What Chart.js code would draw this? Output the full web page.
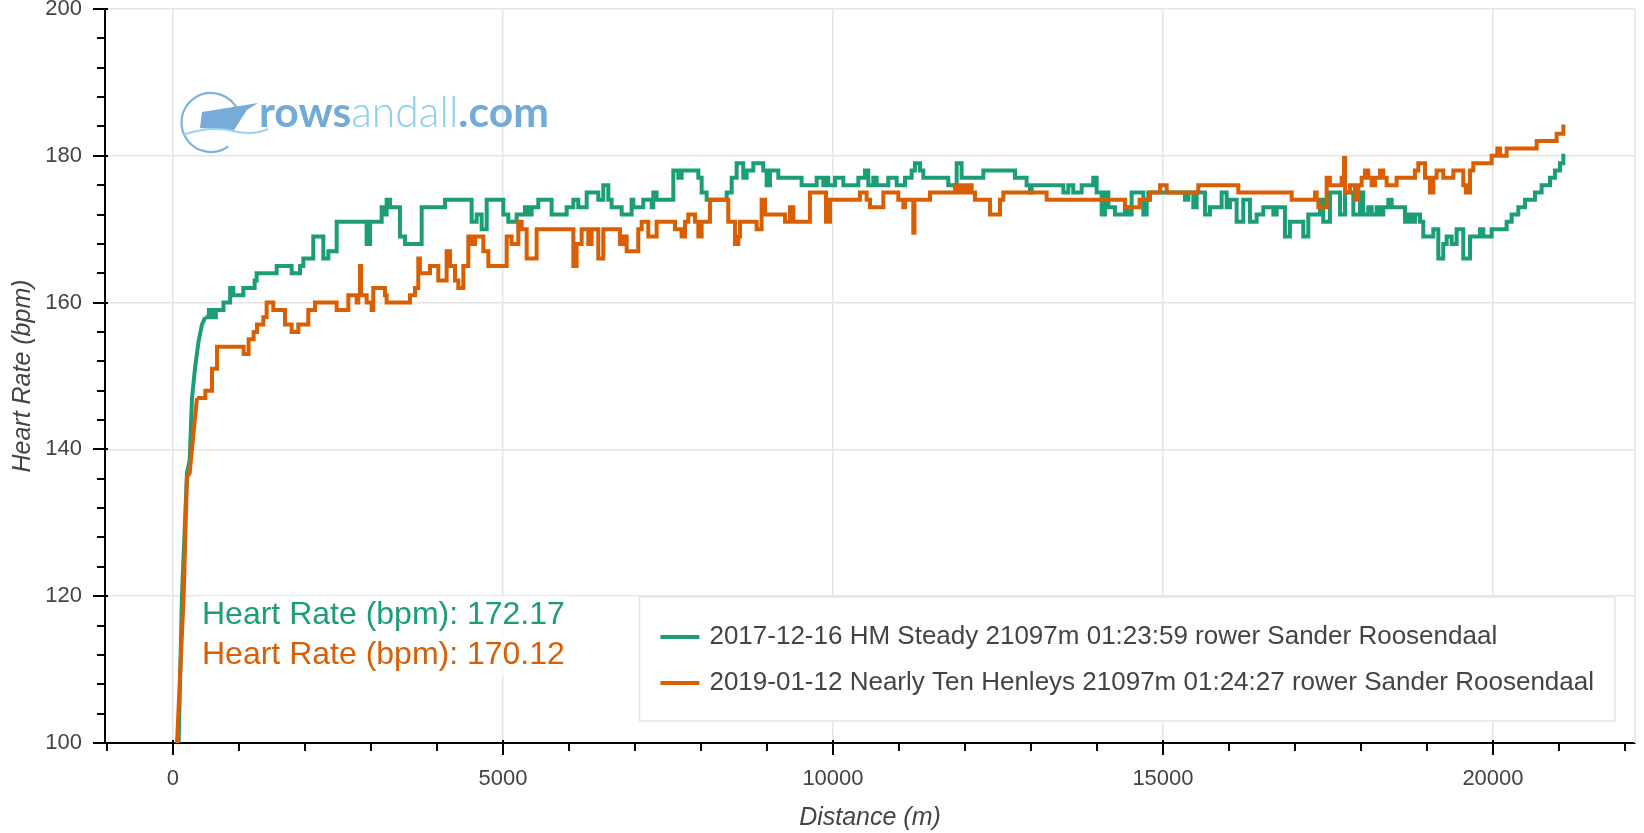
<!DOCTYPE html>
<html>
<head>
<meta charset="utf-8">
<script src="https://cdn.jsdelivr.net/npm/chart.js@4.4.1/dist/chart.umd.min.js"></script>
<style>
html, body { margin: 0; padding: 0; background: #ffffff; }
#wrap { width: 1644px; height: 833px; }
</style>
</head>
<body>
<div id="wrap"><canvas id="c" width="1644" height="833"></canvas></div>
<script>
// ---------------- DATA ----------------
const legendLabels = [
  '2017-12-16 HM Steady 21097m 01:23:59 rower Sander Roosendaal',
  '2019-01-12 Nearly Ten Henleys 21097m 01:24:27 rower Sander Roosendaal'
];
const averageLabels = ['Heart Rate (bpm): 172.17', 'Heart Rate (bpm): 170.12'];

const xMajorTicks = [0, 5000, 10000, 15000, 20000];
const yMajorTicks = [100, 120, 140, 160, 180, 200];
const xMinorStep = 1000;
const yMinorStep = 4;

// Series 1 (green) - warm-up ramp (distance m, heart rate bpm)
const greenRiseDist = [86, 136, 212, 253, 288, 338, 389, 439, 490];
const greenRiseHR   = [100, 120, 136.8, 138.5, 147, 151.4, 154.8, 157, 158];
// Series 1 (green) - stepped heart-rate changes (distance where value changes, new value)
const greenDist = [490, 545, 600, 650, 765, 866, 914, 1066, 1237, 1268, 1571, 1798, 1924, 1975, 2126, 2278, 2354, 2480, 2934, 2985,
  3162, 3212, 3237, 3288, 3439, 3515, 3768, 4121, 4525, 4601, 4677, 4753, 5005, 5081, 5207, 5333, 5384, 5434, 5535, 5737,
  5965, 6066, 6141, 6268, 6444, 6520, 6596, 6646, 6798, 6949, 6975, 7126, 7253, 7278, 7328, 7581, 7657, 7707, 7960, 8010,
  8086, 8389, 8465, 8540, 8641, 8692, 8793, 8944, 8995, 9045, 9172, 9525, 9753, 9854, 9904, 9929, 10030, 10157, 10384, 10485,
  10535, 10611, 10662, 10838, 10965, 11091, 11192, 11242, 11318, 11369, 11747, 11874, 11949, 12278, 12758, 12934, 12985, 13010, 13490, 13566,
  13641, 13768, 13944, 13995, 14071, 14121, 14172, 14273, 14424, 14475, 14525, 14702, 14753, 14778, 15333, 15384, 15460, 15510, 15636, 15712,
  15889, 15965, 16015, 16116, 16217, 16318, 16419, 16520, 16672, 16722, 16848, 16924, 17126, 17202, 17379, 17429, 17530, 17682, 17758, 17884,
  17985, 18035, 18111, 18162, 18237, 18288, 18338, 18414, 18465, 18667, 18717, 18768, 18818, 18894, 18944, 19096, 19172, 19247, 19298, 19374,
  19449, 19550, 19652, 19803, 19854, 19980, 20207, 20283, 20384, 20485, 20636, 20737, 20864, 20939, 21015, 21066, 21097];
const greenHR = [158, 159, 158, 159, 160, 162, 161, 162, 163, 164, 165, 164, 165, 166, 169, 166, 167, 171, 168, 171,
  173, 172, 174, 173, 169, 168, 173, 174, 171, 172, 170, 174, 172, 171, 172, 173, 172, 173, 174, 172,
  173, 174, 173, 175, 174, 176, 174, 173, 172, 174, 173, 174, 173, 175, 174, 178, 177, 178, 177, 175,
  174, 175, 177, 179, 177, 178, 179, 178, 176, 178, 177, 176, 177, 176, 177, 176, 177, 176, 177, 178,
  176, 177, 176, 177, 176, 177, 178, 179, 178, 177, 176, 179, 177, 178, 177, 176, 175, 176, 175, 176,
  175, 176, 177, 175, 172, 175, 173, 172, 173, 172, 175, 172, 174, 175, 174, 175, 173, 175, 172, 173,
  175, 173, 174, 171, 174, 171, 172, 173, 172, 173, 169, 171, 169, 172, 174, 171, 175, 172, 175, 172,
  175, 172, 173, 172, 173, 172, 173, 174, 173, 171, 172, 171, 172, 171, 169, 170, 166, 168, 169, 168,
  170, 166, 169, 170, 169, 170, 171, 172, 173, 174, 175, 176, 177, 178, 179, 180, 180];

// Series 2 (orange) - warm-up ramp
const orangeRiseDist = [61, 162, 212, 253, 313, 364];
const orangeRiseHR   = [100, 120, 136.2, 136.8, 142.4, 147];
// Series 2 (orange) - stepped heart-rate changes
const orangeDist = [364, 490, 591, 667, 1071, 1146, 1222, 1273, 1369, 1419, 1520, 1697, 1798, 1899, 2050, 2152, 2480, 2657, 2783, 2808,
  2833, 2850, 2934, 3010, 3035, 3212, 3237, 3591, 3667, 3717, 3742, 3894, 4020, 4146, 4197, 4273, 4323, 4399, 4475, 4525,
  4576, 4702, 4778, 5056, 5131, 5232, 5283, 5359, 5510, 6066, 6116, 6192, 6293, 6343, 6444, 6520, 6773, 6823, 6874, 7050,
  7101, 7202, 7328, 7606, 7707, 7758, 7808, 7909, 7960, 8010, 8136, 8414, 8515, 8566, 8591, 8843, 8919, 8970, 9273, 9348,
  9399, 9651, 9894, 9955, 10409, 10510, 10561, 10763, 10990, 11066, 11091, 11217, 11235, 11470, 11848, 11899, 11949, 12000, 12050, 12101,
  12151, 12379, 12531, 12581, 13237, 14424, 14646, 14803, 14955, 15056, 15535, 16141, 16950, 17303, 17328, 17354, 17480, 17530, 17707, 17742,
  17760, 17833, 17909, 17960, 18010, 18061, 18111, 18162, 18212, 18288, 18338, 18389, 18540, 18818, 18869, 18970, 19045, 19096, 19146, 19247,
  19399, 19550, 19591, 19652, 19702, 19980, 20066, 20106, 20207, 20662, 20965, 21066, 21097];
const orangeHR = [147, 148, 151, 154, 153, 155, 156, 157, 158, 160, 159, 157, 156, 157, 159, 160, 159, 161, 160, 161,
  165, 161, 160, 159, 162, 161, 160, 161, 162, 166, 164, 165, 163, 167, 165, 163, 162, 165, 169, 168,
  169, 167, 165, 169, 168, 171, 170, 166, 170, 165, 168, 170, 168, 170, 166, 170, 168, 169, 167, 170,
  171, 169, 171, 170, 169, 171, 172, 171, 169, 171, 174, 171, 168, 169, 171, 170, 174, 172, 171, 173,
  171, 175, 171, 174, 175, 174, 173, 175, 174, 173, 174, 169.5, 174, 175, 176, 175, 176, 175, 176, 175,
  174, 172, 174, 175, 174, 173, 174, 175, 176, 175, 176, 175, 174, 175, 174, 173, 177, 176, 177, 179.7,
  175, 176, 174, 176, 177, 178, 177, 176, 177, 178, 177, 176, 177, 178, 179, 177, 175, 177, 178, 177,
  178, 176, 175, 178, 179, 180, 181, 180, 181, 182, 183, 184, 184];

// ---------------- STYLE ----------------
const GREEN = '#1b9e77';
const ORANGE = '#d95f02';
const FONT = '"Liberation Sans", Arial, Helvetica, sans-serif';
const TEXT = '#444444';

const pts = (xs, ys) => xs.map((x, i) => ({ x: x, y: ys[i] }));

const lineBase = { pointRadius: 0, borderWidth: 4, fill: false, tension: 0, borderJoinStyle: 'miter' };

const decor = {
  id: 'decor',
  beforeDraw(chart) {
    const ctx = chart.ctx;
    ctx.save();
    ctx.fillStyle = '#ffffff';
    ctx.fillRect(0, 0, chart.width, chart.height);
    ctx.restore();
  },
  beforeDatasetsDraw(chart) {
    const ctx = chart.ctx;
    const a = chart.chartArea;
    ctx.save();
    // plot outline (right edge)
    ctx.strokeStyle = '#e5e5e5';
    ctx.lineWidth = 1.5;
    ctx.beginPath();
    ctx.moveTo(a.right, a.top);
    ctx.lineTo(a.right, a.bottom);
    ctx.stroke();

    // ---- logo ----
    ctx.strokeStyle = '#7fb3dc';
    ctx.lineWidth = 2.2;
    ctx.beginPath();
    ctx.arc(211, 122.5, 29.5, Math.PI * 0.3, Math.PI * 1.85);
    ctx.stroke();
    ctx.fillStyle = '#78acd8';
    ctx.beginPath();
    ctx.moveTo(202, 112); ctx.lineTo(258, 103); ctx.lineTo(247, 110);
    ctx.lineTo(234, 130); ctx.lineTo(200, 128); ctx.closePath();
    ctx.fill();
    ctx.strokeStyle = '#98d3f2';
    ctx.lineWidth = 2;
    ctx.beginPath();
    ctx.moveTo(183, 135);
    ctx.quadraticCurveTo(212, 125, 238, 132);
    ctx.quadraticCurveTo(255, 135, 268, 129);
    ctx.stroke();

    const lf = 'Lato, "Open Sans", sans-serif';
    const parts = [['rows', 700, '#72aad9'], ['andall', 300, '#8ccff1'], ['.com', 700, '#72aad9']];
    let total = 0;
    parts.forEach(p => { ctx.font = p[1] + ' 40px ' + lf; total += ctx.measureText(p[0]).width; });
    const size = 40 * 290 / total;
    let x = 259;
    ctx.textBaseline = 'alphabetic';
    ctx.textAlign = 'left';
    parts.forEach(p => {
      ctx.font = p[1] + ' ' + size.toFixed(2) + 'px ' + lf;
      ctx.fillStyle = p[2];
      ctx.fillText(p[0], x, 127);
      x += ctx.measureText(p[0]).width;
    });
    ctx.restore();
  },
  afterDraw(chart) {
    const ctx = chart.ctx;
    const a = chart.chartArea;
    const xs = chart.scales.x, ys = chart.scales.y;
    ctx.save();
    ctx.strokeStyle = '#000000';
    ctx.lineWidth = 2;
    ctx.lineCap = 'butt';
    // x ticks
    for (let v = Math.ceil(xs.min / xMinorStep) * xMinorStep; v <= xs.max; v += xMinorStep) {
      const px = Math.round(xs.getPixelForValue(v));
      const major = xMajorTicks.includes(v);
      ctx.beginPath();
      ctx.moveTo(px, a.bottom - (major ? 3 : 0));
      ctx.lineTo(px, a.bottom + (major ? 12 : 8));
      ctx.stroke();
    }
    // y ticks
    for (let v = ys.min; v <= ys.max; v += yMinorStep) {
      const py = Math.round(ys.getPixelForValue(v));
      const major = yMajorTicks.includes(v);
      ctx.beginPath();
      ctx.moveTo(a.left + (major ? 3 : 0), py);
      ctx.lineTo(a.left - (major ? 12 : 8), py);
      ctx.stroke();
    }

    // ---- average labels ----
    ctx.font = '32px ' + FONT;
    ctx.textBaseline = 'middle';
    ctx.textAlign = 'left';
    const lx = 202;
    const w = Math.max(ctx.measureText(averageLabels[0]).width, ctx.measureText(averageLabels[1]).width);
    ctx.fillStyle = 'rgba(255,255,255,0.8)';
    ctx.fillRect(lx - 3, 596, w + 8, 80);
    ctx.fillStyle = GREEN;
    ctx.fillText(averageLabels[0], lx, 615);
    ctx.fillStyle = ORANGE;
    ctx.fillText(averageLabels[1], lx, 655);

    // ---- legend ----
    ctx.font = '26px ' + FONT;
    const tw = Math.max(ctx.measureText(legendLabels[0]).width, ctx.measureText(legendLabels[1]).width);
    const right = a.right - 20;
    const left = right - (tw + 70 + 21);
    const top = 597, h = 124;
    ctx.fillStyle = 'rgba(255,255,255,0.95)';
    ctx.fillRect(left, top, right - left, h);
    ctx.strokeStyle = '#e5e5e5';
    ctx.lineWidth = 1.5;
    ctx.strokeRect(left, top, right - left, h);
    const rows = [[GREEN, top + 40], [ORANGE, top + 86]];
    rows.forEach((r, i) => {
      ctx.strokeStyle = r[0];
      ctx.lineWidth = 4;
      ctx.beginPath();
      ctx.moveTo(left + 21, r[1]);
      ctx.lineTo(left + 60, r[1]);
      ctx.stroke();
      ctx.fillStyle = TEXT;
      ctx.fillText(legendLabels[i], left + 70, r[1]);
    });
    ctx.restore();
  }
};

new Chart(document.getElementById('c'), {
  type: 'line',
  data: {
    datasets: [
      Object.assign({ label: legendLabels[1], data: pts(orangeDist, orangeHR), borderColor: ORANGE, stepped: true, order: 0 }, lineBase),
      Object.assign({ label: legendLabels[1] + ' ramp', data: pts(orangeRiseDist, orangeRiseHR), borderColor: ORANGE, stepped: false, order: 0 }, lineBase),
      Object.assign({ label: legendLabels[0], data: pts(greenDist, greenHR), borderColor: GREEN, stepped: true, order: 1 }, lineBase),
      Object.assign({ label: legendLabels[0] + ' ramp', data: pts(greenRiseDist, greenRiseHR), borderColor: GREEN, stepped: false, order: 1 }, lineBase)
    ]
  },
  options: {
    responsive: false,
    devicePixelRatio: 1,
    animation: false,
    parsing: true,
    layout: { padding: { top: 9, right: 9, left: 0, bottom: 0 } },
    plugins: { legend: { display: false }, tooltip: { enabled: false }, title: { display: false } },
    scales: {
      x: {
        type: 'linear',
        min: -1030,
        max: 22152,
        afterBuildTicks: s => { s.ticks = xMajorTicks.map(v => ({ value: v })); },
        afterFit: s => { s.height = 90; s.paddingLeft = 0; s.paddingRight = 0; },
        grid: { color: '#e5e5e5', lineWidth: 1.5, drawTicks: false },
        border: { display: true, color: '#000000', width: 2 },
        ticks: { color: TEXT, font: { family: FONT, size: 22 }, padding: 23, maxRotation: 0, autoSkip: false, callback: v => String(v) },
        title: { display: true, text: 'Distance (m)', color: TEXT, font: { family: FONT, size: 25, style: 'italic' }, padding: { top: 0, bottom: 0 } }
      },
      y: {
        type: 'linear',
        min: 100,
        max: 200,
        afterBuildTicks: s => { s.ticks = yMajorTicks.map(v => ({ value: v })); },
        afterFit: s => { s.width = 105; s.paddingTop = 0; s.paddingBottom = 0; },
        grid: { color: '#e5e5e5', lineWidth: 1.5, drawTicks: false },
        border: { display: true, color: '#000000', width: 2 },
        ticks: { color: TEXT, font: { family: FONT, size: 22 }, padding: 23, autoSkip: false, callback: v => String(v) },
        title: { display: true, text: 'Heart Rate (bpm)', color: TEXT, font: { family: FONT, size: 25, style: 'italic' }, padding: { top: 8, bottom: 0 } }
      }
    }
  },
  plugins: [decor]
});
</script>
</body>
</html>
